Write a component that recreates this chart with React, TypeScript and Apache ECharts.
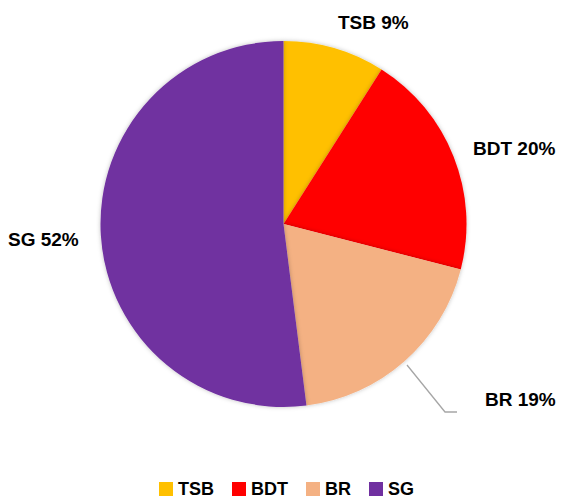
import React, { useEffect, useRef } from "react";
import * as echarts from "echarts";

const categories = ["TSB", "BDT", "BR", "SG"];
const values = [9, 20, 19, 52];
const colors = ["#FFC000", "#FF0000", "#F4B183", "#7030A0"];

export default function App() {
  const ref = useRef<HTMLDivElement>(null);
  useEffect(() => {
    document.body.style.margin = "0";
    if (!ref.current) return;
    const chart = echarts.init(ref.current, undefined, { renderer: "svg" });
    const font = "'Liberation Sans', Arial, sans-serif";
    // label anchor placement (left edge x, vertical centre y)
    const labelPos: [number, number][] = [
      [338, 22],
      [473, 148],
      [485, 399],
      [8, 239],
    ];
    chart.setOption({
      animation: false,
      color: colors,
      legend: {
        top: 480,
        left: 159,
        padding: 0,
        icon: "rect",
        itemWidth: 14,
        itemHeight: 14,
        itemGap: 18,
        textStyle: { fontFamily: font, fontWeight: "bold", fontSize: 18, lineHeight: 18, color: "#000" },
        data: categories,
      },
      series: [
        {
          type: "pie",
          center: [283.5, 224],
          radius: 183,
          startAngle: 90,
          clockwise: true,
          label: {
            show: true,
            position: "outside",
            overflow: "none",
            formatter: (p: any) => `${p.name} ${p.value}%`,
            fontFamily: font,
            fontWeight: "bold",
            fontSize: 19,
            color: "#000",
          },
          labelLine: { show: false, lineStyle: { color: "#A6A6A6", width: 1.3 } },
          labelLayout: (p: any) => {
            const [x, y] = labelPos[p.dataIndex];
            const o: any = { x, y, align: "left", verticalAlign: "middle" };
            if (p.dataIndex === 2) {
              o.labelLinePoints = [
                [407, 365],
                [445, 412],
                [457, 412],
              ];
            }
            return o;
          },
          itemStyle: { shadowBlur: 4, shadowColor: "rgba(0,0,0,0.25)" },
          emphasis: { disabled: true },
          data: categories.map((c, i) => ({
            name: c,
            value: values[i],
            labelLine: i === 2 ? { show: true } : undefined,
          })),
        },
      ],
    });
    return () => chart.dispose();
  }, []);
  return <div ref={ref} style={{ width: 561, height: 502 }} />;
}
